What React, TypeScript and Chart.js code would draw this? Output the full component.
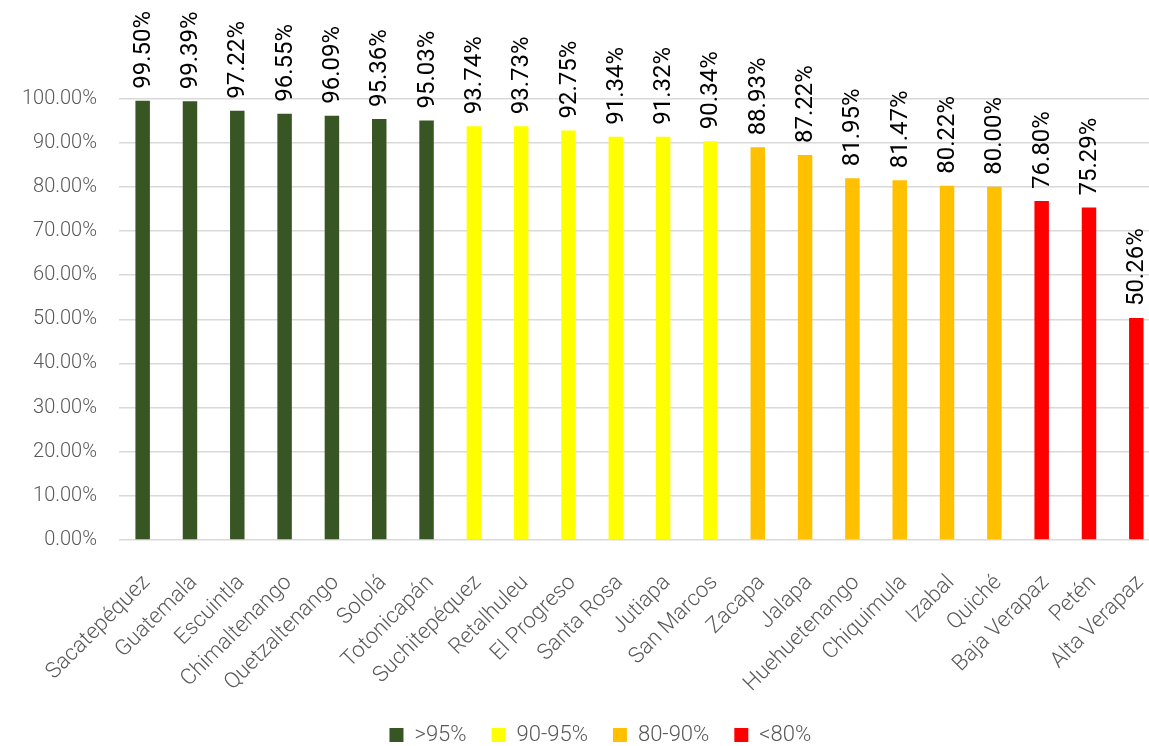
import React, { useEffect, useRef } from "react";
import { Chart, registerables } from "chart.js";

Chart.register(...registerables);

const categories = [
  "Sacatepéquez", "Guatemala", "Escuintla", "Chimaltenango", "Quetzaltenango", "Sololá",
  "Totonicapán", "Suchitepéquez", "Retalhuleu", "El Progreso", "Santa Rosa", "Jutiapa",
  "San Marcos", "Zacapa", "Jalapa", "Huehuetenango", "Chiquimula", "Izabal", "Quiché",
  "Baja Verapaz", "Petén", "Alta Verapaz",
];
const values = [
  99.5, 99.39, 97.22, 96.55, 96.09, 95.36, 95.03, 93.74, 93.73, 92.75, 91.34, 91.32,
  90.34, 88.93, 87.22, 81.95, 81.47, 80.22, 80.0, 76.8, 75.29, 50.26,
];
const barGroups = [0, 0, 0, 0, 0, 0, 0, 1, 1, 1, 1, 1, 1, 2, 2, 2, 2, 2, 2, 3, 3, 3];
const groupLabels = [">95%", "90-95%", "80-90%", "<80%"];
const groupColors = ["#375623", "#FFFF00", "#FFC000", "#FF0000"];

const W = 1162;
const H = 760;

const dataLabels = {
  id: "dataLabels",
  afterDatasetsDraw(chart: any) {
    const ctx = chart.ctx;
    const meta = chart.getDatasetMeta(0);
    ctx.save();
    ctx.fillStyle = "#000000";
    ctx.font = "400 24px Roboto";
    ctx.textAlign = "left";
    ctx.textBaseline = "middle";
    meta.data.forEach((bar: any, i: number) => {
      ctx.save();
      ctx.translate(bar.x + 1, bar.y - 12);
      ctx.rotate(-Math.PI / 2);
      ctx.fillText(values[i].toFixed(2) + "%", 0, 0);
      ctx.restore();
    });
    ctx.restore();
  },
};

const legendShift = {
  id: "legendShift",
  afterLayout(chart: any) {
    const lg = chart.legend;
    if (lg) {
      lg.left += 20;
      lg.right += 20;
    }
  },
};

export default function App() {
  const ref = useRef<HTMLCanvasElement>(null);
  useEffect(() => {
    if (!ref.current) return;
    const chart = new Chart(ref.current, {
      type: "bar",
      data: {
        labels: categories,
        datasets: [
          {
            data: values,
            backgroundColor: barGroups.map((g) => groupColors[g]),
            borderWidth: 0,
            barPercentage: 0.306,
            categoryPercentage: 1,
          },
        ],
      },
      options: {
        responsive: false,
        animation: false,
        layout: { padding: { left: 0, right: 1.3, top: 98.5, bottom: 4 } },
        plugins: {
          tooltip: { enabled: false },
          legend: {
            position: "bottom",
            onClick: () => {},
            labels: {
              boxWidth: 14,
              boxHeight: 14,
              padding: 25,
              color: "#595959",
              font: { family: "Roboto", size: 22, weight: "300" as any },
              generateLabels: () =>
                groupLabels.map((t, i) => ({
                  text: t,
                  fillStyle: groupColors[i],
                  strokeStyle: groupColors[i],
                  lineWidth: 0,
                  fontColor: "#595959",
                  hidden: false,
                  datasetIndex: 0,
                })),
            },
          },
        },
        scales: {
          x: {
            offset: true,
            grid: {
              display: true,
              drawOnChartArea: false,
              drawTicks: true,
              tickLength: 23,
              tickColor: "rgba(0,0,0,0)",
              color: "rgba(0,0,0,0)",
            },
            border: { display: false },
            afterFit: (s: any) => {
              s.height = 159;
            },
            ticks: {
              autoSkip: false,
              minRotation: 45,
              maxRotation: 45,
              padding: 7,
              labelOffset: 4,
              color: "#595959",
              font: { family: "Roboto", size: 22, weight: "300" as any },
            },
          },
          y: {
            min: 0,
            max: 100,
            afterFit: (s: any) => {
              s.width = 119;
            },
            border: { display: false },
            grid: { color: "#d9d9d9", lineWidth: 1.5, drawTicks: false },
            ticks: {
              stepSize: 10,
              padding: 22,
              color: "#595959",
              font: { family: "Roboto", size: 20, weight: "300" as any },
              callback: (v: any) => Number(v).toFixed(2) + "%",
            },
          },
        },
      },
      plugins: [dataLabels, legendShift],
    });
    return () => chart.destroy();
  }, []);
  return (
    <div
      style={{
        position: "fixed",
        left: 0,
        top: 0,
        width: 1149,
        height: 746,
        overflow: "hidden",
        background: "#ffffff",
      }}
    >
      <canvas ref={ref} width={W} height={H} style={{ width: W, height: H, display: "block" }} />
    </div>
  );
}
